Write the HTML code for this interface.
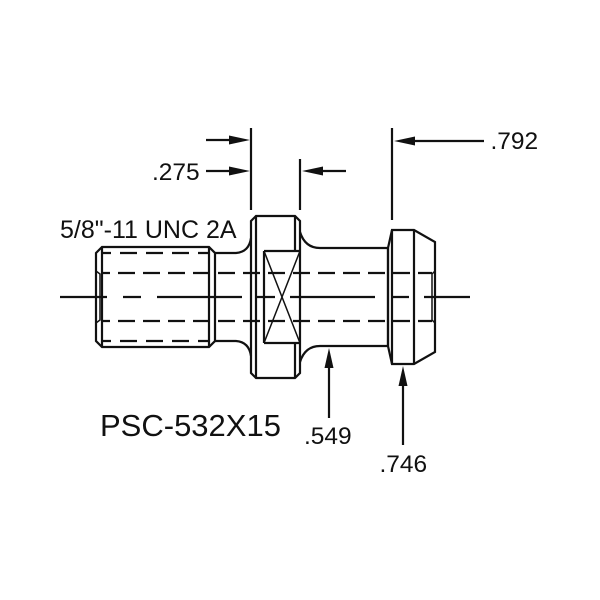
<!DOCTYPE html>
<html><head><meta charset="utf-8"><style>
html,body{margin:0;padding:0;background:#fff}
svg{display:block}
text{font-family:"Liberation Sans",sans-serif;fill:#111}
</style></head><body>
<svg width="600" height="600" viewBox="0 0 600 600" xmlns="http://www.w3.org/2000/svg">
<rect width="600" height="600" fill="#fff"/>
<g fill="none" stroke="#111" stroke-width="2.2">
<!-- thread -->
<path d="M96 253L102 247H209L215 253V341L209 347H102L96 341Z"/>
<path d="M102 247V347M209 247V347"/>
<path d="M96 271L100 274V320L96 323" stroke-width="1.5"/>
<path d="M102 253H209M102 341H209" stroke-dasharray="17 9" stroke-dashoffset="8"/>
<!-- neck left -->
<path d="M215 253H236Q249 252 251 238M215 341H236Q249 342 251 356"/>
<!-- collar -->
<path d="M251 221L256 216H295L300 221V373L295 378H256L251 373Z"/>
<path d="M256 216V378M295 216V251M295 343V378"/>
<path d="M264 251H300M264 343H300M264 251V343"/>
<path d="M264 251L300 343M264 343L300 251" stroke-width="1.5"/>
<!-- neck right -->
<path d="M300 232Q305 248 320 248H388M300 362Q305 346 320 346H388"/>
<!-- head -->
<path d="M388 248L392 230H414L435 242V352L414 364H392L388 346Z"/>
<path d="M388 248V346M392 230V364M414 230V364"/>
<path d="M435 271L432 274V320L435 323" stroke-width="1.5"/>
<!-- hidden lines -->
<path d="M102 273H432M102 321H432" stroke-dasharray="17 8" stroke-dashoffset="9"/>
<!-- centre line -->
<path d="M60 297H107M123 297H141M157 297H242M257 297H275M290 297H375M391 297H409M424 297H470"/>
<!-- extension lines -->
<path d="M251 128V210M300 159V210M392 128V220"/>
<!-- dimension lines -->
<path d="M206 140H232M206 171H232M346 171H320M484 141H412M329 366V418M403 384V445"/>
</g>
<g fill="#111" stroke="none">
<path d="M250 140L229 135.500V144.500Z"/>
<path d="M250 171L229 166.500V175.500Z"/>
<path d="M302 171L323 166.500V175.500Z"/>
<path d="M394 141L415 136.500V145.500Z"/>
<path d="M329 348L324.500 368H333.500Z"/>
<path d="M403 366L398.500 386H407.500Z"/>
</g>
<text x="60" y="238" font-size="25">5/8"-11 UNC 2A</text>
<text x="152" y="180" font-size="24.500">.275</text>
<text x="490.500" y="149" font-size="24.500">.792</text>
<text x="304" y="444" font-size="24.500">.549</text>
<text x="379.500" y="472" font-size="24.500">.746</text>
<text x="100" y="436" font-size="31">PSC-532X15</text>
</svg>
</body></html>
